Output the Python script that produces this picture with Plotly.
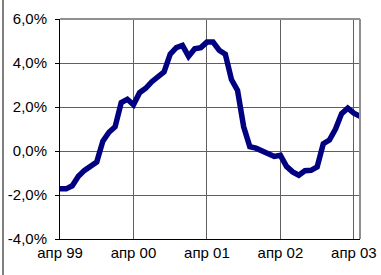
import plotly.graph_objects as go

# monthly values, Apr 1999 .. May 2003 (percent)
months = list(range(50))
values = [-1.72, -1.72, -1.58, -1.15, -0.88, -0.65, -0.5, 0.45, 0.85, 1.1,
          2.2, 2.35, 2.1, 2.65, 2.85, 3.15, 3.4, 3.6, 4.4, 4.7,
          4.8, 4.3, 4.65, 4.7, 4.95, 4.95, 4.58, 4.4, 3.25, 2.75,
          1.1, 0.2, 0.13, 0.02, -0.12, -0.25, -0.2, -0.7, -0.95, -1.1,
          -0.9, -0.88, -0.72, 0.33, 0.5, 1.0, 1.7, 1.95, 1.72, 1.58]

x_tickvals = [0, 12, 24, 36, 48]
x_ticktext = ["апр 99", "апр 00", "апр 01", "апр 02", "апр 03"]
y_tickvals = [-4, -2, 0, 2, 4, 6]
y_ticktext = ["-4,0%", "-2,0%", "0,0%", "2,0%", "4,0%", "6,0%"]

fig = go.Figure()
fig.add_trace(go.Scatter(
    x=months, y=values, mode="lines",
    line=dict(color="#000080", width=5.5),
    hoverinfo="skip", showlegend=False,
))

font = dict(family="Liberation Sans, Arial, sans-serif", size=15, color="black")

fig.update_layout(
    width=381, height=275,
    margin=dict(l=60, r=21, t=19, b=36, autoexpand=False),
    paper_bgcolor="white", plot_bgcolor="white",
    font=font,
    xaxis=dict(
        range=[0, 49], tickvals=x_tickvals, ticktext=x_ticktext,
        showgrid=True, gridcolor="#606060", gridwidth=1,
        showline=True, linecolor="black", linewidth=1,
        ticks="", zeroline=False, fixedrange=True, automargin=False,
        tickfont=font,
    ),
    yaxis=dict(
        range=[-4, 6], tickvals=y_tickvals, ticktext=y_ticktext,
        showgrid=True, gridcolor="#606060", gridwidth=1,
        showline=True, linecolor="black", linewidth=1,
        ticks="outside", ticklen=4, tickcolor="black",
        ticklabelstandoff=5,
        zeroline=False, fixedrange=True, automargin=False, tickfont=font,
    ),
    shapes=[
        # plot-area border on top and right
        dict(type="line", xref="paper", yref="paper", x0=0, x1=1, y0=1, y1=1,
             line=dict(color="#909090", width=2)),
        dict(type="line", xref="paper", yref="paper", x0=1, x1=1, y0=0, y1=1,
             line=dict(color="#909090", width=2)),
        # outer left frame line of the chart
        dict(type="line", xref="paper", yref="paper",
             x0=-57 / 300, x1=-57 / 300, y0=-36 / 220, y1=19 / 220 + 1,
             line=dict(color="black", width=1)),
    ],
)

fig.write_html(
    "out.html",
    config={"displayModeBar": False},
    post_script="document.body.style.margin='0';document.body.style.overflow='hidden';",
)
